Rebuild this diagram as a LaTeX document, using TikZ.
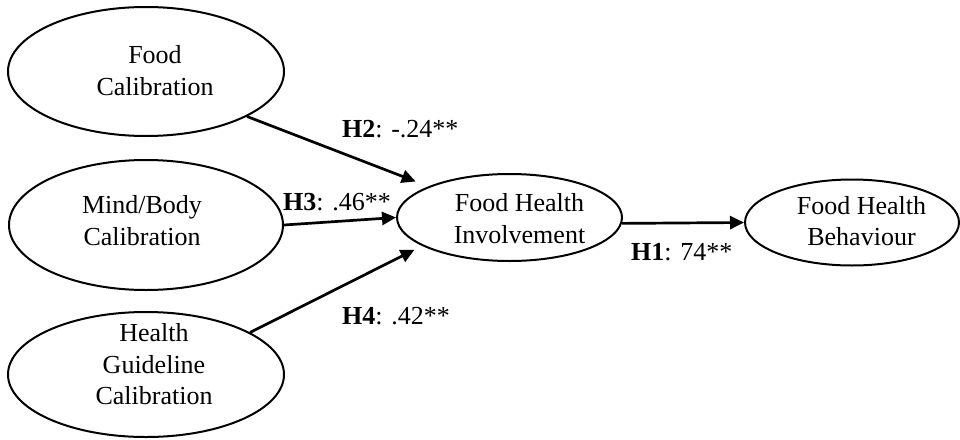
\documentclass[tikz,border=0pt]{standalone}
\usepackage{fontspec}
\setmainfont{Liberation Serif}
\usetikzlibrary{arrows.meta,shapes.geometric}
\begin{document}
\begin{tikzpicture}[x=1pt,y=-1pt,
  ell/.style={draw, ellipse, line width=2pt, inner sep=0pt},
  lbl/.style={align=center, font=\fontsize{26pt}{31.5pt}\selectfont, inner sep=0pt},
  hyp/.style={anchor=base west, font=\fontsize{26pt}{31.5pt}\selectfont, inner sep=0pt},
  arr/.style={line width=2.7pt, -{Triangle[length=14pt,width=13pt]}}]
\useasboundingbox (0,0) rectangle (960,439);
\fill[white] (0,0) rectangle (960,439);

\node[ell, minimum width=276pt, minimum height=129pt,
  label={[lbl, xshift=9pt, yshift=1pt]center:Food\\Calibration}] (fc) at (146,71.5) {};
\node[ell, minimum width=274pt, minimum height=130pt,
  label={[lbl, xshift=-4pt, yshift=4.5pt]center:Mind/Body\\Calibration}] (mb) at (146,225) {};
\node[ell, minimum width=276pt, minimum height=125pt,
  label={[lbl, xshift=8pt, yshift=10pt]center:Health\\Guideline\\Calibration}] (hg) at (146,374.5) {};
\node[ell, minimum width=225pt, minimum height=87pt,
  label={[lbl, xshift=10pt, yshift=-1pt]center:Food Health\\Involvement}] (fhi) at (509.5,217.5) {};
\node[ell, minimum width=214pt, minimum height=86pt,
  label={[lbl, xshift=9.5pt, yshift=1.5pt]center:Food Health\\Behaviour}] (fhb) at (852,222.5) {};

\draw[arr, shorten >=13.6pt] (fc.-24) -- (fhi.159);
\draw[arr] (mb.east) -- (fhi.west);
\draw[arr, shorten >=8.5pt] (hg.22.5) -- (fhi.198);
\draw[arr] (fhi.-3) -- (fhb.west);

\node[hyp] (l2) at (342,137) {\textbf{H2}: -.24**};
\node[hyp] (l3) at (283,210.5) {\textbf{H3}: .46**};
\node[hyp] (l4) at (342,324.5) {\textbf{H4}: .42**};
\node[hyp] (l1) at (631,260) {\textbf{H1}: 74**};
\end{tikzpicture}
\end{document}
